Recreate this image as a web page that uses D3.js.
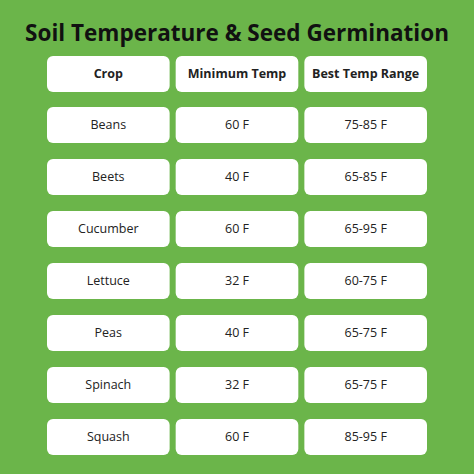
<!DOCTYPE html>
<html><head><meta charset="utf-8">
<script src="https://cdn.jsdelivr.net/npm/d3@7"></script>
<style>body{margin:0;background:#6bb54a}</style>
</head><body><svg></svg>
<script>
const headers = ['Crop', 'Minimum Temp', 'Best Temp Range'];
const crops = ['Beans', 'Beets', 'Cucumber', 'Lettuce', 'Peas', 'Spinach', 'Squash'];
const minTemps = ['60 F', '40 F', '60 F', '32 F', '40 F', '32 F', '60 F'];
const bestRanges = ['75-85 F', '65-85 F', '65-95 F', '60-75 F', '65-75 F', '65-75 F', '85-95 F'];

const W = 474, H = 474;
const svg = d3.select('svg').attr('width', W).attr('height', H);
svg.append('rect').attr('width', W).attr('height', H).attr('fill', '#6bb54a');

svg.append('text').attr('x', W / 2).attr('y', 41).attr('text-anchor', 'middle')
  .attr('font-family', 'Open Sans').attr('font-weight', 'bold').attr('font-size', 22.5)
  .attr('fill', '#111').text('Soil Temperature & Seed Germination');

const x = d3.scaleBand().domain([0, 1, 2]).range([47, 427]).paddingInner(0.047);
const rows = [headers].concat(crops.map((c, i) => [c, minTemps[i], bestRanges[i]]));
const y = d3.scaleLinear().domain([0, 1]).range([56, 107]);
const y2 = d3.scaleLinear().domain([1, 7]).range([107, 419]);
const rowY = i => i === 0 ? y(0) : y2(i);

rows.forEach((r, i) => {
  r.forEach((txt, j) => {
    const g = svg.append('g').attr('transform', `translate(${x(j)},${rowY(i)})`);
    g.append('rect').attr('width', x.bandwidth()).attr('height', 36).attr('rx', 6)
      .attr('fill', '#fff');
    g.append('text').attr('x', x.bandwidth() / 2).attr('y', 18).attr('dy', '0.35em')
      .attr('text-anchor', 'middle').attr('font-family', 'Open Sans')
      .attr('font-weight', i === 0 ? 'bold' : 'normal')
      .attr('font-size', i === 0 ? 12.5 : 12.5).attr('fill', '#222').text(txt);
  });
});
</script></body></html>
